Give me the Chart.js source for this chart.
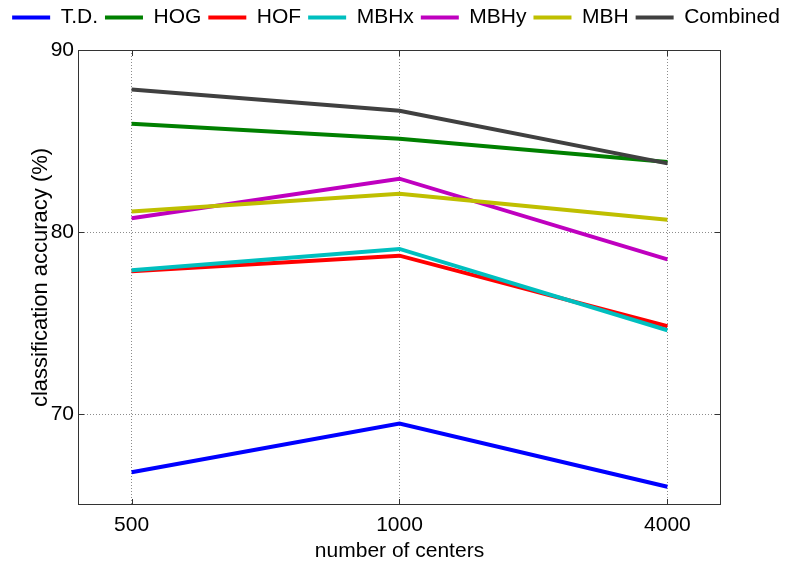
<!DOCTYPE html>
<html>
<head>
<meta charset="utf-8">
<script src="https://cdn.jsdelivr.net/npm/chart.js@4"></script>
<style>
  html, body { margin: 0; padding: 0; background: #fff; }
  #wrap { width: 792px; height: 564px; }
</style>
</head>
<body>
<div id="wrap"><canvas id="chart" width="792" height="564"></canvas></div>
<script>
// data
const centers = ['500', '1000', '4000'];
const td = [66.8, 69.47, 66.0];
const hog = [85.95, 85.12, 83.85];
const hof = [77.85, 78.7, 74.82];
const mbhx = [77.9, 79.07, 74.6];
const mbhy = [80.75, 82.93, 78.5];
const mbh = [81.13, 82.1, 80.67];
const combined = [87.83, 86.66, 83.77];
const yTicks = [70, 80, 90];

const seriesNames = ['T.D.', 'HOG', 'HOF', 'MBHx', 'MBHy', 'MBH', 'Combined'];
const seriesValues = [td, hog, hof, mbhx, mbhy, mbh, combined];
const seriesColors = ['#0000ff', '#008000', '#ff0000', '#00bfbf', '#bf00bf', '#bfbf00', '#404040'];

const FONT = "'Liberation Sans', Arial, Helvetica, sans-serif";

// frame round the plot + small inward ticks, like matlab
const framePlugin = {
    id: 'frame',
    afterDatasetsDraw(chart) {
        const ctx = chart.ctx;
        const a = chart.chartArea;
        const x = chart.scales.x;
        const y = chart.scales.y;
        ctx.save();
        ctx.strokeStyle = '#333333';
        ctx.lineWidth = 1;
        ctx.strokeRect(a.left + 0.5, a.top + 0.5, a.right - a.left - 1, a.bottom - a.top - 1);
        ctx.beginPath();
        x.ticks.forEach(t => {
            const px = Math.round(x.getPixelForValue(t.value)) + 0.5;
            ctx.moveTo(px, a.bottom); ctx.lineTo(px, a.bottom - 6);
            ctx.moveTo(px, a.top); ctx.lineTo(px, a.top + 6);
        });
        y.ticks.forEach(t => {
            const py = Math.round(y.getPixelForValue(t.value)) + 0.5;
            ctx.moveTo(a.left, py); ctx.lineTo(a.left + 6, py);
            ctx.moveTo(a.right, py); ctx.lineTo(a.right - 6, py);
        });
        ctx.stroke();
        ctx.restore();
    }
};

// a bit more room under the legend
const legendGap = {
    id: 'legendGap',
    beforeInit(chart) {
        const fit = chart.legend.fit;
        chart.legend.fit = function() {
            fit.bind(chart.legend)();
            this.height += 12;
        };
    }
};

const datasets = seriesNames.map((name, i) => ({
    label: name,
    data: seriesValues[i].map((v, k) => ({ x: k, y: v })),
    borderColor: seriesColors[i],
    backgroundColor: seriesColors[i],
    borderWidth: 4,
    pointRadius: 0,
    tension: 0,
    fill: false,
    yAxisID: 'y',
    order: seriesNames.length - i
}));

new Chart(document.getElementById('chart'), {
    type: 'line',
    data: { datasets: datasets },
    options: {
        responsive: false,
        animation: false,
        devicePixelRatio: 1,
        layout: { padding: 0 },
        plugins: {
            tooltip: { enabled: false },
            legend: {
                position: 'top',
                labels: {
                    boxWidth: 38,
                    boxHeight: 4,
                    padding: 7,
                    color: '#000',
                    font: { family: FONT, size: 21 },
                    sort: (a, b) => a.datasetIndex - b.datasetIndex,
                    generateLabels: chart => Chart.defaults.plugins.legend.labels.generateLabels(chart)
                        .map(item => Object.assign(item, { lineWidth: 0 }))
                }
            }
        },
        scales: {
            x: {
                type: 'linear',
                min: -0.2,
                max: 2.2,
                afterBuildTicks: axis => { axis.ticks = centers.map((c, i) => ({ value: i })); },
                afterFit: axis => { axis.height = 59; },
                ticks: {
                    padding: 8,
                    color: '#000',
                    font: { family: FONT, size: 21 },
                    callback: v => centers[v]
                },
                grid: { color: '#8c8c8c', drawTicks: false },
                border: { display: false, dash: [1, 2] },
                title: {
                    display: true,
                    text: 'number of centers',
                    color: '#000',
                    font: { family: FONT, size: 21, lineHeight: 1 },
                    padding: { top: 0, bottom: 2 }
                }
            },
            y: {
                min: 65,
                max: 90,
                afterBuildTicks: axis => { axis.ticks = yTicks.map(v => ({ value: v })); },
                afterFit: axis => { axis.width = 78; },
                ticks: {
                    padding: 4,
                    color: '#000',
                    font: { family: FONT, size: 21 }
                },
                grid: { color: '#8c8c8c', drawTicks: false },
                border: { display: false, dash: [1, 2] },
                title: {
                    display: true,
                    text: 'classification accuracy (%)',
                    color: '#000',
                    font: { family: FONT, size: 22, lineHeight: 1 },
                    padding: { top: 30, bottom: 0 }
                }
            },
            // empty right axis, only keeps the right margin
            yRight: {
                position: 'right',
                min: 65,
                max: 90,
                afterFit: axis => { axis.width = 71; },
                ticks: { display: false },
                grid: { display: false, drawTicks: false },
                border: { display: false }
            }
        }
    },
    plugins: [framePlugin, legendGap]
});
</script>
</body>
</html>
